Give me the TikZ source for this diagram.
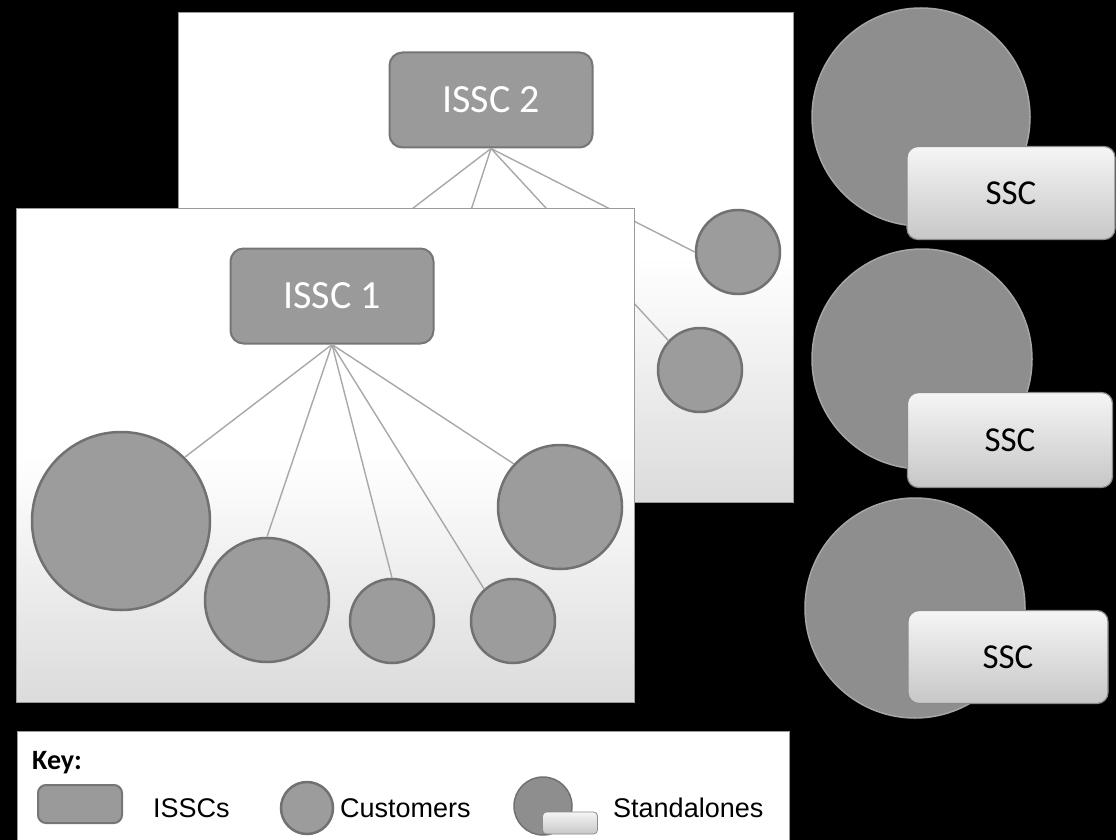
\documentclass[tikz,border=0pt]{standalone}
\usepackage{fontspec}
\setmainfont{Carlito}
\newfontfamily\keyfont{Liberation Sans}
\definecolor{issfill}{HTML}{9A9A9A}
\definecolor{issdraw}{HTML}{767676}
\definecolor{custfill}{HTML}{9C9C9C}
\definecolor{custdraw}{HTML}{717171}
\definecolor{linkgray}{HTML}{A8A8A8}
\definecolor{sscfill}{HTML}{8E8E8E}
\definecolor{sscrim}{HTML}{A6A6A6}
\definecolor{paneledge}{HTML}{9A9A9A}
\tikzset{
  panel/.style={draw=paneledge, line width=1pt, top color=white, bottom color=black!14, middle color=white},
  issc/.style={rounded corners=13pt, fill=issfill, draw=issdraw, line width=2pt,
    text=white, font=\fontsize{40}{40}\selectfont, minimum width=203pt,
    minimum height=95pt, inner sep=0pt},
  cust/.style={circle, fill=custfill, draw=custdraw, line width=2.5pt,
    inner sep=0pt, minimum size=#1},
  link/.style={draw=linkgray, line width=1.4pt},
  sscdisc/.style={circle, fill=sscfill, draw=sscrim, line width=1.5pt,
    inner sep=0pt, minimum size=#1},
  sscbox/.style={rounded corners=11pt, draw=black!45, line width=1.2pt,
    top color=black!4, bottom color=black!22, text=black,
    font=\fontsize{35}{35}\selectfont, inner sep=0pt},
  keylabel/.style={anchor=west, inner sep=0pt, font=\keyfont\fontsize{27}{27}\selectfont}
}
\begin{document}
\begin{tikzpicture}[x=1pt, y=-1pt]
  % canvas
  \fill[black] (0,0) rectangle (1116,840);
  \useasboundingbox (0,0) rectangle (1116,840);

  % ---- second organisation (behind) ----
  \node[panel, anchor=north west, minimum width=615pt, minimum height=490pt, inner sep=0pt]
    (back) at (178,12) {};
  \node[issc] (issc2) at (491,100) {ISSC 2};
  \node[cust=84pt] (c21) at (738,252) {};
  \node[cust=84pt] (c22) at (700,370) {};
  \coordinate (h1) at (374,238);
  \coordinate (h2) at (462,238);
  \draw[link] (issc2.south) -- (h1);
  \draw[link] (issc2.south) -- (h2);
  \draw[link] (issc2.south) -- (c22.137);
  \draw[link] (issc2.south) -- (c21.west);

  % ---- first organisation (front) ----
  \node[panel, anchor=north west, minimum width=618pt, minimum height=494pt, inner sep=0pt]
    (front) at (16,208) {};
  \node[issc] (issc1) at (332,296) {ISSC 1};
  \node[cust=178pt] (b1) at (121,521) {};
  \node[cust=124pt] (b2) at (267,600) {};
  \node[cust=84pt]  (b3) at (392,621) {};
  \node[cust=84pt]  (b4) at (513,621) {};
  \node[cust=124pt] (b5) at (560,507) {};
  \draw[link] (issc1.south) -- (b1.45);
  \draw[link] (issc1.south) -- (b2.north);
  \draw[link] (issc1.south) -- (b3.north);
  \draw[link] (issc1.south) -- (b4.132);
  \draw[link] (issc1.south) -- (b5.137);

  % ---- standalone shared service centres ----
  \node[sscdisc=218pt] (s1) at (921,117) {};
  \node[sscbox, minimum width=208pt, minimum height=93pt] (ssc1) at (1011,193) {SSC};
  \node[sscdisc=220pt] (s2) at (922,359) {};
  \node[sscbox, minimum width=205pt, minimum height=95pt] (ssc2) at (1010,440) {SSC};
  \node[sscdisc=220pt] (s3) at (915,608) {};
  \node[sscbox, minimum width=200pt, minimum height=93pt] (ssc3) at (1008,657) {SSC};

  % ---- key ----
  \node[draw=paneledge, line width=1pt, fill=white, anchor=north west,
    minimum width=772pt, minimum height=115pt, inner sep=0pt] (key) at (17,731) {};
  \node[anchor=west, inner sep=0pt, font=\bfseries\fontsize{28}{28}\selectfont]
    (keytitle) at (32,763) {Key:};
  \node[rounded corners=8pt, fill=issfill, draw=issdraw, line width=2pt,
    minimum width=84pt, minimum height=38pt, inner sep=0pt] (kissc) at (80,804) {};
  \node[keylabel] (kissclab) at (153,808) {ISSCs};
  \node[cust=52pt] (kcust) at (307,808) {};
  \node[keylabel] (kcustlab) at (340,808) {Customers};
  \node[sscdisc=58pt, draw=custdraw] (kdisc) at (543,806) {};
  \node[sscbox, rounded corners=4pt, line width=0.8pt, minimum width=55pt,
    minimum height=22pt] (kbox) at (570,823) {};
  \node[keylabel] (kstandlab) at (613,808) {Standalones};
\end{tikzpicture}
\end{document}
